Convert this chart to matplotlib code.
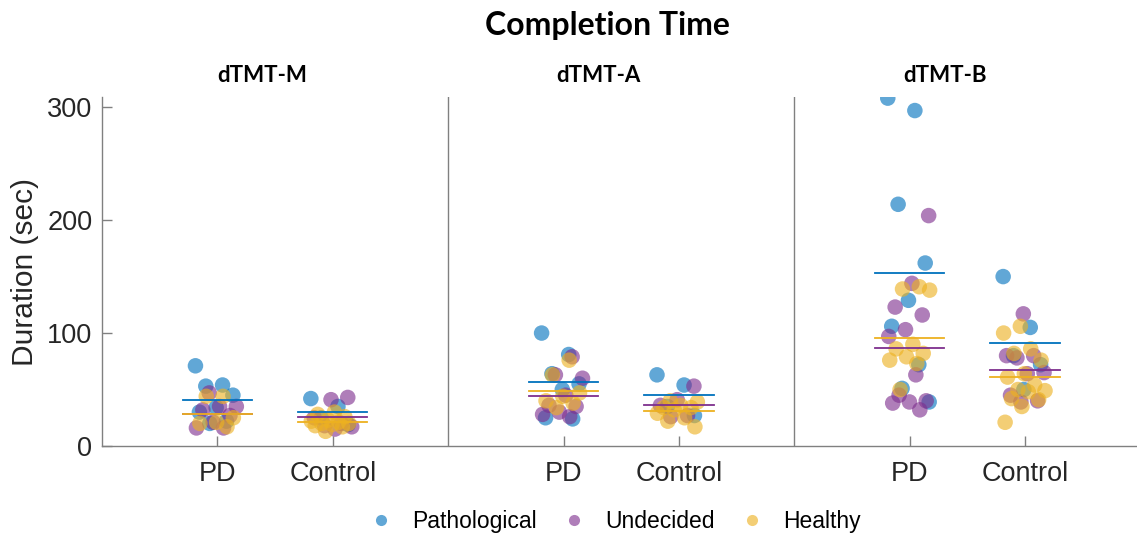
import numpy as np
import matplotlib.pyplot as plt
from matplotlib.lines import Line2D

# 每个测验 × 组别 × 分类 的完成时间（秒）
tests = ["dTMT-M", "dTMT-A", "dTMT-B"]
groups = ["PD", "Control"]
classes = ["Pathological", "Undecided", "Healthy"]

m_pd_path = [71, 54, 53, 45, 34, 30, 22, 20]
m_pd_und = [47, 35, 35, 32, 27, 21, 16, 16]
m_pd_hea = [44, 44, 25, 21, 20, 17]
m_ct_path = [42, 35, 25, 19]
m_ct_und = [43, 41, 25, 20, 18, 17, 15]
m_ct_hea = [30, 28, 26, 23, 22, 21, 20, 20, 19, 18, 17, 13]

a_pd_path = [100, 81, 64, 55, 50, 25, 24]
a_pd_und = [79, 63, 60, 45, 36, 35, 30, 28, 26]
a_pd_hea = [76, 63, 47, 44, 40, 38, 34]
a_ct_path = [63, 54, 35, 27]
a_ct_und = [53, 41, 36, 27, 26]
a_ct_hea = [40, 39, 36, 34, 34, 32, 29, 25, 22, 17]

b_pd_path = [308, 297, 214, 162, 129, 106, 72, 51, 39]
b_pd_und = [204, 144, 123, 116, 103, 97, 63, 45, 40, 39, 38, 32]
b_pd_hea = [141, 139, 138, 90, 86, 82, 79, 76, 73, 50]
b_ct_path = [150, 105, 80, 72, 50]
b_ct_und = [117, 80, 80, 78, 65, 64, 45, 40, 39]
b_ct_hea = [106, 100, 86, 82, 76, 64, 61, 54, 50, 49, 48, 42, 41, 35, 21]

data = [
    [[m_pd_path, m_pd_und, m_pd_hea], [m_ct_path, m_ct_und, m_ct_hea]],
    [[a_pd_path, a_pd_und, a_pd_hea], [a_ct_path, a_ct_und, a_ct_hea]],
    [[b_pd_path, b_pd_und, b_pd_hea], [b_ct_path, b_ct_und, b_ct_hea]],
]

colors = ["#0072BD", "#7E2F8E", "#EDB120"]

plt.rcParams['font.family'] = ['Liberation Sans', 'DejaVu Sans']

fig = plt.figure(figsize=(11.37, 5.38), dpi=100)
ax = fig.add_axes([0.0897, 0.171, 0.9103, 0.6487])

phi = 0.6180339887
ticks, ticklabels = [], []
for t, test in enumerate(tests):
    for g, grp in enumerate(groups):
        xc = 3 * t + 1 + g
        ticks.append(xc)
        ticklabels.append(grp)
        k = 0
        for c, vals in enumerate(data[t][g]):
            vals = np.asarray(vals, dtype=float)
            # 确定性抖动，避免点完全重叠
            jit = np.array([((k + i) * phi + 0.37 * c) % 1.0 - 0.5 for i in range(len(vals))]) * 0.38
            k += len(vals)
            ax.scatter(xc + jit, vals, s=125, color=colors[c], alpha=0.62,
                       edgecolors='none', zorder=3 + c)
        for c, vals in enumerate(data[t][g]):
            mu = np.mean(vals)
            ax.plot([xc - 0.3, xc + 0.3], [mu, mu], color=colors[c], lw=1.3, zorder=7)

for xs in [3, 6]:
    ax.axvline(xs, color='#808080', lw=1.0, zorder=1)

ax.set_xlim(0, 8.97)
ax.set_ylim(0, 309)
ax.set_xticks(ticks)
ax.set_xticklabels(ticklabels, fontsize=19.5, color='#262626')
ax.set_yticks([0, 100, 200, 300])
ax.tick_params(axis='y', labelsize=19.5, labelcolor='#262626')
ax.tick_params(direction='in', length=7, color='#808080', width=1.0, pad=7)
ax.tick_params(axis='x', pad=11)
for side in ['top', 'right']:
    ax.spines[side].set_visible(False)
for side in ['left', 'bottom']:
    ax.spines[side].set_color('#808080')
    ax.spines[side].set_linewidth(1.0)
ax.set_ylabel('Duration (sec)', fontsize=21.5, color='#262626', labelpad=6)

sub_x = [1.39, 4.30, 7.31]
for t, test in enumerate(tests):
    ax.text(sub_x[t], 1.063, test, transform=ax.get_xaxis_transform(),
            ha='center', va='center', fontsize=16, fontweight='bold',
            family=['Lato', 'DejaVu Sans'])

fig.text(0.534, 0.952, 'Completion Time', ha='center', va='center',
         fontsize=23, fontweight='bold', family=['Lato', 'DejaVu Sans'])

handles = [Line2D([], [], ls='none', marker='o', markersize=8,
                  markerfacecolor=col, markeredgecolor='none', alpha=0.62)
           for col in colors]
fig.legend(handles, classes, loc='center', bbox_to_anchor=(0.542, 0.03),
           ncol=3, frameon=False, fontsize=16.5, handlelength=0.8,
           handletextpad=0.95, columnspacing=1.25)

fig.savefig('out.png', dpi=100)
